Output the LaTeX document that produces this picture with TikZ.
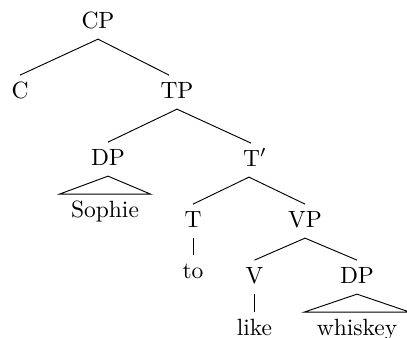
\documentclass[tikz,border=0pt]{standalone}
\usetikzlibrary{calc}
\begin{document}
\begin{tikzpicture}[x=0.4255pt,y=-0.4255pt,
  lbl/.style={anchor=base, text height=6.94pt, text depth=1.94pt, inner sep=2.6pt},
  edge/.style={line width=0.4pt}]
\useasboundingbox (0,0) rectangle (407,337);
\node[lbl] (cp) at (98,28) {CP};
\node[lbl] (c) at (20,98) {C};
\node[lbl] (tp) at (177,98) {TP};
\node[lbl] (dp1) at (108,165) {DP};
\node[lbl] (tbar) at (255,166) {T$'$};
\node[lbl] (sophie) at (105,217) {Sophie};
\node[lbl] (t) at (193,227) {T};
\node[lbl] (vp) at (305,227) {VP};
\node[lbl] (to) at (193,278) {to};
\node[lbl] (v) at (254.5,283) {V};
\node[lbl] (dp2) at (357,283) {DP};
\node[lbl] (like) at (254.5,335) {like};
\node[lbl] (whiskey) at (357,335) {whiskey};
\draw[edge] (cp.south) -- (c.north);
\draw[edge] (cp.south) -- ($(tp.north)+(-8,0)$);
\draw[edge] (tp.south) -- (dp1.north);
\draw[edge] (tp.south) -- ($(tbar.north)+(-4,0)$);
\draw[edge] ($(tbar.south)+(-6,0)$) -- (t.north);
\draw[edge] ($(tbar.south)+(-6,0)$) -- (vp.north);
\draw[edge] (t.south) -- (to.north);
\draw[edge] (vp.south) -- (v.north);
\draw[edge] (vp.south) -- (dp2.north);
\draw[edge] (v.south) -- (like.north);
\draw[edge] (dp1.south) -- ($(sophie.north west)+(-5,0)$) -- ($(sophie.north east)+(5,0)$) -- cycle;
\draw[edge] (dp2.south) -- ($(whiskey.north west)+(-6,0)$) -- ($(whiskey.north east)+(6,0)$) -- cycle;
\end{tikzpicture}
\end{document}
